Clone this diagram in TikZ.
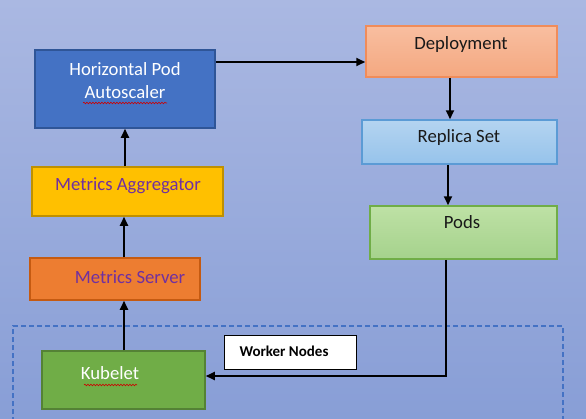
\documentclass[tikz,border=0pt]{standalone}
\usepackage{fontspec}
\setmainfont{Carlito}
\usetikzlibrary{arrows.meta,decorations.pathmorphing}
\definecolor{bgtop}{RGB}{170,184,226}
\definecolor{bgbot}{RGB}{136,158,214}
\definecolor{hpafill}{RGB}{68,114,196}
\definecolor{hpaedge}{RGB}{47,85,151}
\definecolor{aggfill}{RGB}{255,192,0}
\definecolor{aggedge}{RGB}{191,144,0}
\definecolor{msfill}{RGB}{237,125,49}
\definecolor{msedge}{RGB}{197,90,17}
\definecolor{kubfill}{RGB}{112,173,71}
\definecolor{kubedge}{RGB}{84,130,53}
\definecolor{deptop}{RGB}{248,190,160}
\definecolor{depbot}{RGB}{244,168,128}
\definecolor{depedge}{RGB}{240,140,90}
\definecolor{rstop}{RGB}{180,212,240}
\definecolor{rsbot}{RGB}{150,195,235}
\definecolor{rsedge}{RGB}{91,155,213}
\definecolor{podtop}{RGB}{190,225,165}
\definecolor{podbot}{RGB}{165,210,140}
\definecolor{podedge}{RGB}{112,173,71}
\definecolor{mpurple}{RGB}{112,48,160}
\definecolor{dashblue}{RGB}{68,114,196}
\tikzset{
  box/.style={draw, line width=1.5pt, inner sep=0pt},
  lbl/.style={font=\fontsize{18.7}{23}\selectfont, align=center, inner sep=0pt},
  conn/.style={line width=1.8pt, draw=black, -{Triangle[length=9pt,width=8pt]}},
  squig/.style={draw=red!80!black, line width=0.6pt, decorate, decoration={snake, amplitude=0.8pt, segment length=3pt}}
}
\begin{document}
\begin{tikzpicture}[x=1pt,y=-1pt]
\useasboundingbox (0,0) rectangle (586,418);
\shade[top color=bgtop, bottom color=bgbot] (0,0) rectangle (586,418);
% dashed worker region
\draw[dashblue, line width=1.5pt, dash pattern=on 5pt off 3pt] (13,430) -- (13,326) -- (563,326) -- (563,430);
% boxes
\node[box, draw=hpaedge, fill=hpafill, minimum width=180pt, minimum height=78pt] (hpa) at (125,89) {};
\node[box, draw=aggedge, fill=aggfill, minimum width=191pt, minimum height=49pt] (agg) at (127.5,191.5) {};
\node[box, draw=msedge, fill=msfill, minimum width=170pt, minimum height=42pt] (ms) at (115,279) {};
\node[box, draw=kubedge, fill=kubfill, minimum width=163pt, minimum height=58pt] (kub) at (123.5,380) {};
\node[box, draw=depedge, top color=deptop, bottom color=depbot, minimum width=191pt, minimum height=51pt] (dep) at (461.5,51.5) {};
\node[box, draw=rsedge, top color=rstop, bottom color=rsbot, minimum width=195pt, minimum height=44pt] (rs) at (459.5,142) {};
\node[box, draw=podedge, top color=podtop, bottom color=podbot, minimum width=187pt, minimum height=53pt] (pods) at (463.5,232.5) {};
\node[draw=black, fill=white, line width=1pt, minimum width=132pt, minimum height=34pt, inner sep=0pt] (wn) at (290,352) {};
% labels
\node[lbl, text=white] (hpat) at (125,81) {Horizontal Pod\\Autoscaler};
\node[lbl, text=mpurple] (aggt) at (128,186) {Metrics Aggregator};
\node[lbl, text=mpurple] (mst) at (130,277) {Metrics Server};
\node[lbl, text=white] (kubt) at (110,373) {Kubelet};
\node[lbl, text=black!90] (dept) at (461,45) {Deployment};
\node[lbl, text=black!90] (rst) at (459,138) {Replica Set};
\node[lbl, text=black!90] (podst) at (462,222) {Pods};
\node[font=\fontsize{15}{18}\selectfont\bfseries, inner sep=0pt] (wnt) at (284,351) {Worker Nodes};
% spell-check squiggles
\draw[squig] (83,103) -- (167,103);
\draw[squig] (84,385) -- (137,385);
% connectors
\coordinate (bend) at (446,376);
\draw[conn] (hpa.east |- 0,62) -- (dep.west |- 0,62);
\draw[conn] (dep.south -| 450,0) -- (rs.north -| 450,0);
\draw[conn] (rs.south -| 448,0) -- (pods.north -| 448,0);
\draw[conn] (pods.south -| bend) -- (bend) -- (kub.east |- bend);
\draw[conn] (kub.north -| 124,0) -- (ms.south -| 124,0);
\draw[conn] (ms.north -| 124,0) -- (agg.south -| 124,0);
\draw[conn] (agg.north -| 125,0) -- (hpa.south -| 125,0);
\end{tikzpicture}
\end{document}
